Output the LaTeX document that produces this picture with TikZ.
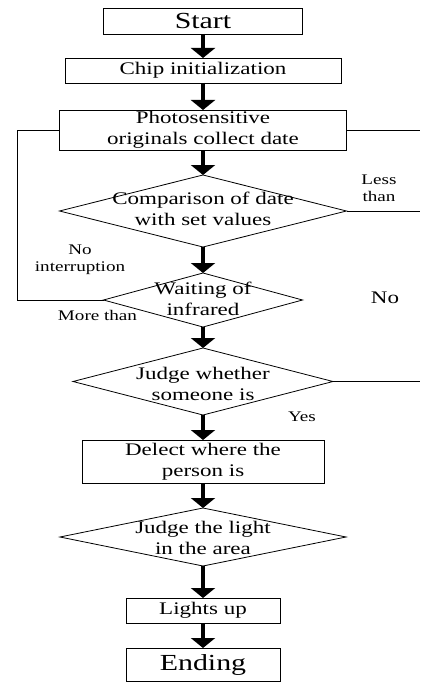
\documentclass[tikz,border=0pt]{standalone}
\usepackage{fontspec}
\setmainfont{Liberation Serif}[FakeStretch=1.3]
\usetikzlibrary{shapes.geometric,arrows.meta}
\begin{document}
\begin{tikzpicture}[x=1pt,y=-1pt,
  box/.style={draw,line width=0.8pt,inner sep=0pt,outer sep=0pt},
  dia/.style={draw,diamond,line width=0.8pt,inner sep=0pt,outer sep=0pt},
  txt/.style={align=center,inner sep=0pt,font=\fontsize{17.7}{20.5}\selectfont},
  big/.style={inner sep=0pt,font=\fontsize{23}{26}\selectfont},
  lbl/.style={align=center,inner sep=0pt,font=\fontsize{14.7}{17}\selectfont},
  flow/.style={line width=3.5pt,-{Triangle[width=24pt,length=10pt]}},
  loop/.style={line width=0.8pt}]
\useasboundingbox (0,0) rectangle (420,682);
% boxes
\node[box,minimum width=199pt,minimum height=26pt] (start) at (203,21) {};
\node[big] at (start) {Start};
\node[box,minimum width=276pt,minimum height=25pt] (chip) at (203,70.5) {};
\node[txt] at (chip) {Chip initialization};
\node[box,minimum width=287pt,minimum height=40pt] (photo) at (203,130) {};
\node[txt] at (photo) {Photosensitive\\originals collect date};
\node[dia,minimum width=287pt,minimum height=72pt] (comp) at (203,211) {};
\node[txt] at (203,209) {Comparison of date\\with set values};
\node[dia,minimum width=199pt,minimum height=54pt] (wait) at (203,300) {};
\node[txt] at (203,299) {Waiting of\\infrared};
\node[dia,minimum width=260pt,minimum height=67pt] (judge) at (203,381.5) {};
\node[txt] at (203,384) {Judge whether\\someone is};
\node[box,minimum width=242pt,minimum height=43pt] (delect) at (203,461.5) {};
\node[txt] at (delect) {Delect where the\\person is};
\node[dia,minimum width=286pt,minimum height=58pt] (light) at (203,537) {};
\node[txt] at (203,538) {Judge the light\\in the area};
\node[box,minimum width=154pt,minimum height=25pt] (lights) at (203,610.5) {};
\node[txt] at (lights) {Lights up};
\node[box,minimum width=154pt,minimum height=33pt] (ending) at (203,664.5) {};
\node[big] at (ending) {Ending};
% main flow
\draw[flow] (start) -- (chip);
\draw[flow] (chip) -- (photo);
\draw[flow] (photo) -- (comp);
\draw[flow] (comp) -- (wait);
\draw[flow] (wait) -- (judge);
\draw[flow] (judge) -- (delect);
\draw[flow] (delect) -- (light);
\draw[flow] (light) -- (lights);
\draw[flow] (lights) -- (ending);
% loops
\coordinate (L1) at (17,130);
\coordinate (L2) at (17,300);
\draw[loop] (photo.west) -- (L1) -- (L2) -- (wait.west);
\coordinate (R1) at (420,130);
\coordinate (R2) at (420,211);
\coordinate (R3) at (420,381.5);
\draw[loop] (photo.east) -- (R1);
\draw[loop] (comp.east) -- (R2);
\draw[loop] (judge.east) -- (R3);
% labels
\node[lbl] at (379,188) {Less\\than};
\node[txt] at (385,298) {No};
\node[lbl] at (80,260) {No\\interruption};
\node[lbl] at (97.5,315) {More than};
\node[lbl] at (302,417) {Yes};
\end{tikzpicture}
\end{document}
